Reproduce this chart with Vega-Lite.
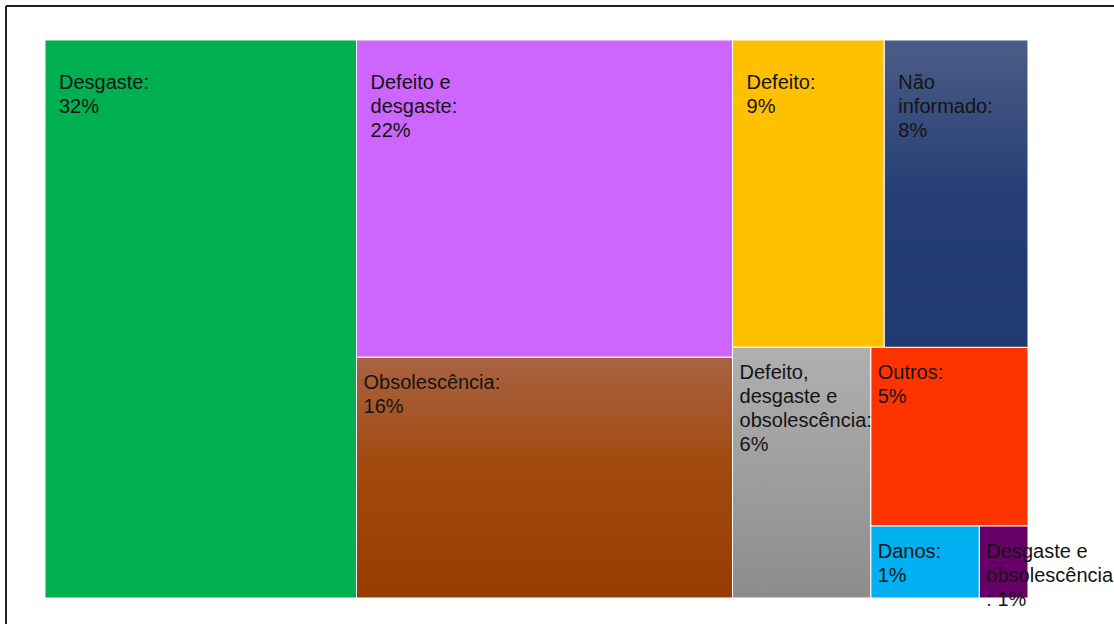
{
  "$schema": "https://vega.github.io/schema/vega-lite/v6.json",
  "width": 1108,
  "height": 618,
  "padding": {"left": 6, "top": 6, "right": 0, "bottom": 0},
  "autosize": {"type": "none"},
  "background": "white",
  "config": {"view": {"stroke": null, "fill": "white"}},
  "data": {
    "values": [
      {"cat": "Desgaste", "value": 32, "label": "Desgaste:\n32%", "x0": 0, "x1": 31.69, "y0": 0, "y1": 100},
      {"cat": "Defeito e desgaste", "value": 22, "label": "Defeito e\ndesgaste:\n22%", "x0": 31.69, "x1": 69.94, "y0": 0, "y1": 56.86},
      {"cat": "Obsolescência", "value": 16, "label": "Obsolescência:\n16%", "x0": 31.69, "x1": 69.94, "y0": 56.86, "y1": 100},
      {"cat": "Defeito", "value": 9, "label": "Defeito:\n9%", "x0": 69.94, "x1": 85.38, "y0": 0, "y1": 55.07},
      {"cat": "Não informado", "value": 8, "label": "Não\ninformado:\n8%", "x0": 85.38, "x1": 100, "y0": 0, "y1": 55.07},
      {"cat": "Defeito, desgaste e obsolescência", "value": 6, "label": "Defeito,\ndesgaste e\nobsolescência:\n6%", "x0": 69.94, "x1": 84.0, "y0": 55.07, "y1": 100},
      {"cat": "Outros", "value": 5, "label": "Outros:\n5%", "x0": 84.0, "x1": 100, "y0": 55.07, "y1": 87.1},
      {"cat": "Danos", "value": 1, "label": "Danos:\n1%", "x0": 84.0, "x1": 95.05, "y0": 87.1, "y1": 100},
      {"cat": "Desgaste e obsolescência", "value": 1, "label": "Desgaste e\nobsolescência\n: 1%", "x0": 95.05, "x1": 100, "y0": 87.1, "y1": 100}
    ]
  },
  "encoding": {
    "x": {"field": "x0", "type": "quantitative", "scale": {"domain": [-3.967, 108.749], "nice": false, "zero": false}, "axis": null},
    "y": {"field": "y0", "type": "quantitative", "scale": {"domain": [-6.093, 104.66], "reverse": true, "nice": false, "zero": false}, "axis": null}
  },
  "layer": [
    {
      "mark": {"type": "rule", "stroke": "#222222", "strokeWidth": 1.5},
      "encoding": {"x": {"datum": -3.967, "type": "quantitative"}, "y": null}
    },
    {
      "mark": {"type": "rule", "stroke": "#222222", "strokeWidth": 1.5},
      "encoding": {"y": {"datum": -6.093, "type": "quantitative"}, "x": null}
    },
    {
      "transform": [{"filter": "datum.cat !== 'Obsolescência' && datum.cat !== 'Não informado' && datum.cat !== 'Defeito, desgaste e obsolescência'"}],
      "mark": {"type": "rect", "stroke": "white", "strokeWidth": 1},
      "encoding": {
        "x2": {"field": "x1"},
        "y2": {"field": "y1"},
        "color": {
          "field": "cat", "type": "nominal", "legend": null,
          "scale": {
            "domain": ["Desgaste", "Defeito e desgaste", "Defeito", "Outros", "Danos", "Desgaste e obsolescência"],
            "range": ["#00AF50", "#CC66FF", "#FFC000", "#FF3300", "#00B0F0", "#660066"]
          }
        }
      }
    },
    {
      "transform": [{"filter": "datum.cat === 'Obsolescência'"}],
      "mark": {"type": "rect", "stroke": "white", "strokeWidth": 1,
        "color": {"gradient": "linear", "x1": 0, "y1": 0, "x2": 0, "y2": 1,
          "stops": [{"offset": 0, "color": "#A96243"}, {"offset": 0.45, "color": "#A24A0E"}, {"offset": 1, "color": "#973C00"}]}},
      "encoding": {"x2": {"field": "x1"}, "y2": {"field": "y1"}}
    },
    {
      "transform": [{"filter": "datum.cat === 'Não informado'"}],
      "mark": {"type": "rect", "stroke": "white", "strokeWidth": 1,
        "color": {"gradient": "linear", "x1": 0, "y1": 0, "x2": 0, "y2": 1,
          "stops": [{"offset": 0, "color": "#4C5C86"}, {"offset": 0.5, "color": "#253F75"}, {"offset": 1, "color": "#1F3A6E"}]}},
      "encoding": {"x2": {"field": "x1"}, "y2": {"field": "y1"}}
    },
    {
      "transform": [{"filter": "datum.cat === 'Defeito, desgaste e obsolescência'"}],
      "mark": {"type": "rect", "stroke": "white", "strokeWidth": 1,
        "color": {"gradient": "linear", "x1": 0, "y1": 0, "x2": 0, "y2": 1,
          "stops": [{"offset": 0, "color": "#B0B0B0"}, {"offset": 1, "color": "#8C8C8C"}]}},
      "encoding": {"x2": {"field": "x1"}, "y2": {"field": "y1"}}
    },
    {
      "transform": [{"filter": "datum.y0 === 0"}],
      "mark": {"type": "text", "align": "left", "baseline": "top", "dx": 14, "dy": 33,
        "font": "Liberation Sans", "fontSize": 20, "lineHeight": 24, "lineBreak": "\n", "color": "#141414"},
      "encoding": {"text": {"field": "label"}}
    },
    {
      "transform": [{"filter": "datum.y0 !== 0"}],
      "mark": {"type": "text", "align": "left", "baseline": "top", "dx": 7, "dy": 16,
        "font": "Liberation Sans", "fontSize": 20, "lineHeight": 24, "lineBreak": "\n", "color": "#141414"},
      "encoding": {"text": {"field": "label"}}
    }
  ]
}
